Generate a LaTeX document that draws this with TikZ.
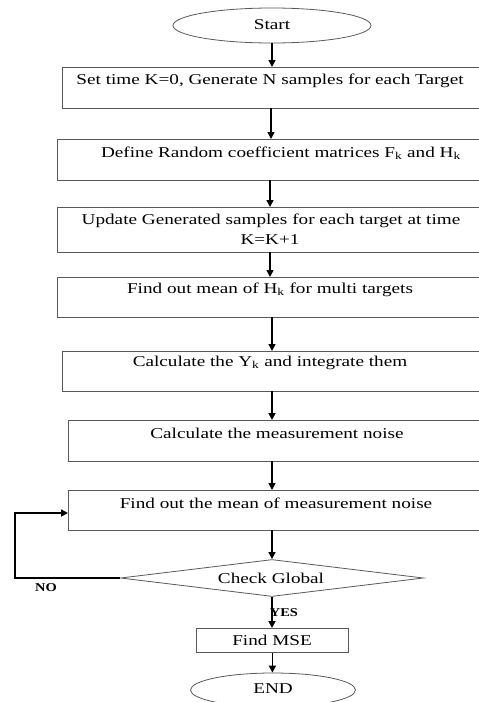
\documentclass[tikz,border=0pt]{standalone}
\usepackage{fontspec}
\usepackage{graphicx}
\setmainfont{Liberation Serif}
\usetikzlibrary{shapes.geometric,arrows.meta}
\newcommand{\wide}[1]{\scalebox{1.28}[1]{#1}}
\begin{document}
\begin{tikzpicture}[x=1pt,y=-1pt,
  box/.style={draw=black!65,line width=0.8pt,rectangle,inner sep=0pt,anchor=north west},
  txt/.style={inner sep=0pt,font=\fontsize{15}{19}\selectfont},
  flow/.style={line width=1.6pt,-{Triangle[width=7pt,length=7pt]}},
  term/.style={draw=black!65,line width=0.8pt,ellipse,inner sep=0pt},
  lbl/.style={inner sep=0pt,font=\fontsize{12}{14}\selectfont\bfseries}]
\useasboundingbox (0,0) rectangle (479,702);
\begin{scope}
\clip (0,0) rectangle (479,702);
\node[term,minimum width=198pt,minimum height=35pt] (s) at (272,25.5) {};
\node[txt] (st) at (272,25) {\wide{Start}};
\node[box,minimum width=421pt,minimum height=41pt] (b1) at (62,67) {};
\node[txt] (t1) at (270,81) {\wide{Set time K=0, Generate N samples for each Target}};
\node[box,minimum width=426pt,minimum height=41pt] (b2) at (57,139) {};
\node[txt] (t2) at (281,153) {\wide{Define Random coefficient matrices F\textsubscript{k} and H\textsubscript{k}}};
\node[box,minimum width=426pt,minimum height=45pt] (b3) at (57,207) {};
\node[txt] (t3) at (271,221) {\wide{Update Generated samples for each target at time}};
\node[txt] (t3b) at (270,240) {\wide{K=K+1}};
\node[box,minimum width=426pt,minimum height=40pt] (b4) at (57,277) {};
\node[txt] (t4) at (270,290) {\wide{Find out mean of H\textsubscript{k} for multi targets}};
\node[box,minimum width=421pt,minimum height=40pt] (b5) at (62,351) {};
\node[txt] (t5) at (270,363) {\wide{Calculate the Y\textsubscript{k} and integrate them}};
\node[box,minimum width=415pt,minimum height=41pt] (b6) at (68,420) {};
\node[txt] (t6) at (277,433) {\wide{Calculate the measurement noise}};
\node[box,minimum width=415pt,minimum height=40pt] (b7) at (68,490) {};
\node[txt] (t7) at (276,503) {\wide{Find out the mean of measurement noise}};
\node[draw=black!65,line width=0.8pt,diamond,aspect=8,minimum width=303pt,minimum height=37pt,inner sep=0pt] (d) at (272,578) {};
\node[txt] (dt) at (271,578) {\wide{Check Global}};
\node[box,minimum width=152pt,minimum height=24pt] (m) at (196,628) {};
\node[txt] (mt) at (272,640) {\wide{Find MSE}};
\node[term,minimum width=165pt,minimum height=34pt] (e) at (273,690) {};
\node[txt] (et) at (273,689) {\wide{END}};
\node[lbl] (no) at (46,588) {\scalebox{1.2}[1]{NO}};
\node[lbl] (yes) at (284,613) {\scalebox{1.2}[1]{YES}};
\coordinate (lp1) at (15,578);
\coordinate (lp2) at (15,513);
\draw[flow] (s.south) -- (s.south |- b1.north);
\draw[flow] (271,108) -- (271,139);
\draw[flow] (270,180) -- (270,207);
\draw[flow] (270,252) -- (270,277);
\draw[flow] (272,317) -- (272,351);
\draw[flow] (272,391) -- (272,420);
\draw[flow] (272,461) -- (272,490);
\draw[flow] (272,530) -- (d.north);
\draw[flow] (d.west) -- (lp1) -- (lp2) -- (lp2 -| b7.west);
\draw[flow] (d.south) -- (d.south |- m.north);
\draw[flow] (m.south) -- (m.south |- e.north);
\end{scope}
\end{tikzpicture}
\end{document}
